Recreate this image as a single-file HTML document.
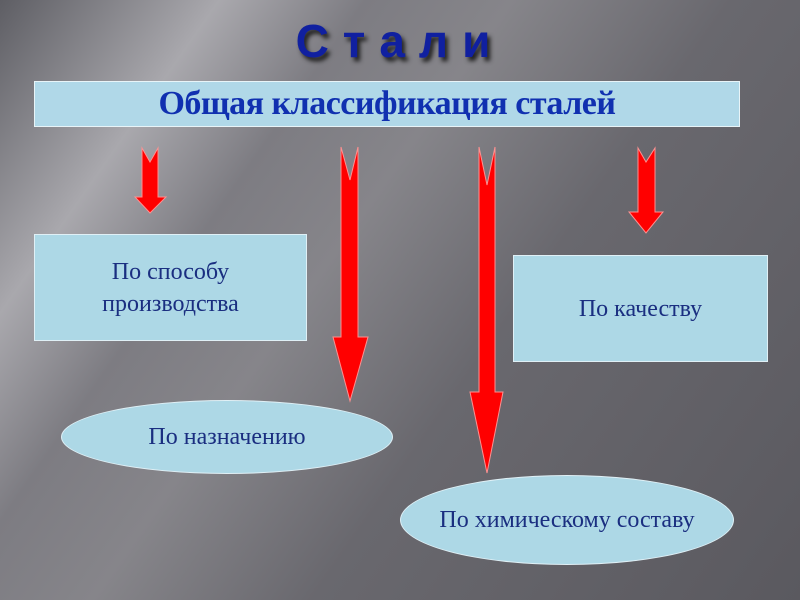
<!DOCTYPE html>
<html><head><meta charset="utf-8"><style>
body{margin:0}
#s{position:relative;width:800px;height:600px;overflow:hidden;
background:linear-gradient(125deg,#5e5e64 0%,#a9a8ad 18%,#7d7c82 30%,#86858a 42%,#69686e 60%,#5a595f 100%);font-family:"Liberation Serif",serif}
.t{position:absolute;left:0;width:800px;top:14px;text-align:center;font:bold 46px "Liberation Sans",sans-serif;color:#1020a0;letter-spacing:14px;text-shadow:3px 4px 4px #222}
.ban{position:absolute;left:34px;top:81px;width:706px;height:46px;background:#b0d8e8;border:1px solid #e8f4f8;box-sizing:border-box;text-align:center;font:bold 34px "Liberation Serif",serif;color:#1030b0;line-height:44px;letter-spacing:-0.5px}
.b{position:absolute;background:#add8e6;border:1px solid #e0f0f6;box-sizing:border-box;color:#1a2e80;font-size:24px;display:flex;align-items:center;justify-content:center;text-align:center;line-height:32px}
.e{border-radius:50%}
svg{position:absolute;left:0;top:0}
</style></head><body><div id="s">
<div class="t">Стали</div>
<div class="ban">Общая классификация сталей</div>
<svg width="800" height="600"><g fill="#ff0000" stroke="#ff9090" stroke-width="1">
<polygon points="142,148 150,162 158,148 158,197 166,197 150,213 135,197 142,197"/>
<polygon points="341,147 350,180 358,147 358,337 368,337 350,401 333,337 341,337"/>
<polygon points="479,147 487,185 495,147 495,392 503,392 487,473 470,392 479,392"/>
<polygon points="638,148 646,162 655,148 655,212 663,212 646,233 629,212 638,212"/>
</g></svg>
<div class="b" style="left:34px;top:234px;width:273px;height:107px">По способу<br>производства</div>
<div class="b" style="left:513px;top:255px;width:255px;height:107px">По качеству</div>
<div class="b e" style="left:61px;top:400px;width:332px;height:74px">По назначению</div>
<div class="b e" style="left:400px;top:475px;width:334px;height:90px">По химическому составу</div>
</div></body></html>
